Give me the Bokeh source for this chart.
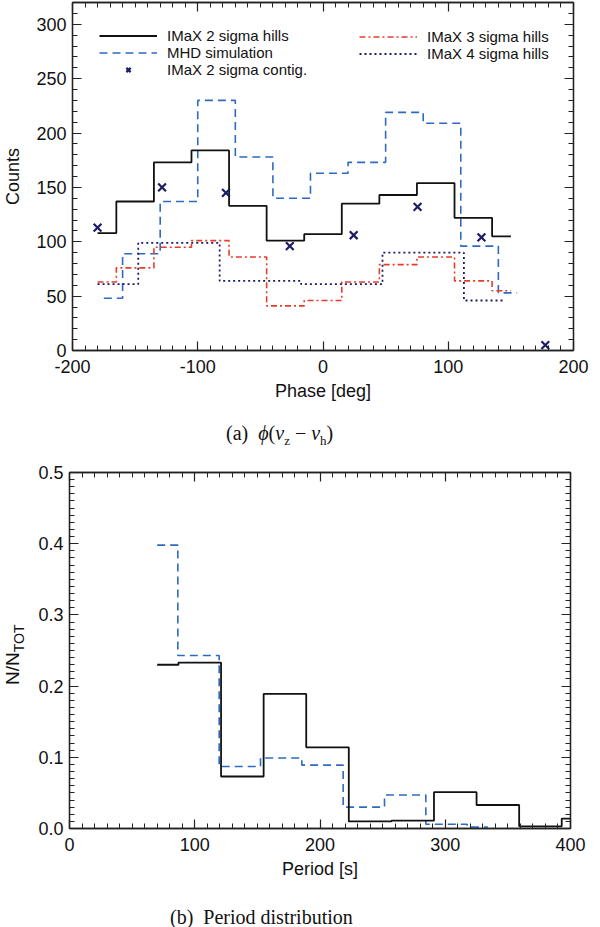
from bokeh.embed import file_html
from bokeh.layouts import column, row
from bokeh.models import (Div, Legend, LegendItem, LinearAxis,
                          NumeralTickFormatter, Range1d, SingleIntervalTicker)
from bokeh.plotting import figure
from bokeh.resources import INLINE

# ---- (a) phase histograms (bin centres, counts) ----
phase_2sig = [-180, -150, -120, -90, -60, -30, 0, 30, 60, 90, 120, 150]
counts_2sig = [108, 137, 173, 184, 133, 101, 107, 135, 143, 154, 122, 105]
counts_3sig = [63, 76, 95, 101, 86, 41, 46, 63, 79, 86, 64, 55]

phase_mhd = [-175, -145, -115, -85, -55, -25, 5, 35, 65, 95, 125, 155]
counts_mhd = [48, 89, 137, 230, 178, 140, 163, 173, 219, 209, 96, 53]

phase_4sig = [-180, -115, -50, 15, 80, 145]
counts_4sig = [61, 99, 64, 61, 90, 46]

phase_contig = [-180, -128.5, -77.5, -26.5, 24.5, 75.5, 126.5, 177.5]
counts_contig = [113, 150, 145, 96, 106, 132, 104, 5]

# ---- (b) period distribution ----
period_imax = [70, 104, 138, 172, 206, 240, 274, 308, 342, 376, 410]
frac_imax = [0.230, 0.233, 0.073, 0.189, 0.114, 0.010, 0.011, 0.051, 0.033, 0.003, 0.014]

period_mhd = [70, 103, 136, 169, 202, 235, 268, 301, 334]
frac_mhd = [0.398, 0.243, 0.087, 0.099, 0.089, 0.030, 0.047, 0.006, 0.002]

SANS = "Liberation Sans"
FRAME = "#222222"
BLUE = "#2e6bbf"
RED = "#e63c2a"
NAVY = "#1c1c66"


def idl_axes(p, xint, yint, yminor, yfmt, ytitle_gap):
    # mirrored axes on top/right, ticks pointing inwards like IDL
    p.add_layout(LinearAxis(), "above")
    p.add_layout(LinearAxis(), "right")
    for ax in p.xaxis:
        ax.ticker = SingleIntervalTicker(interval=xint, num_minor_ticks=10)
    for ax in p.yaxis:
        ax.ticker = SingleIntervalTicker(interval=yint, num_minor_ticks=yminor)
    for ax in p.axis:
        ax.major_tick_in = 9
        ax.major_tick_out = 0
        ax.minor_tick_in = 5
        ax.minor_tick_out = 0
        ax.axis_line_color = FRAME
        ax.axis_line_width = 1.3
        ax.major_tick_line_color = FRAME
        ax.minor_tick_line_color = FRAME
        ax.major_tick_line_width = 1.2
        ax.minor_tick_line_width = 1
        ax.major_label_text_font = SANS
        ax.major_label_text_font_size = "18px"
        ax.major_label_text_color = "#111111"
        ax.axis_label_text_font = SANS
        ax.axis_label_text_font_size = "18px"
        ax.axis_label_text_font_style = "normal"
        ax.axis_label_text_color = "#111111"
    for ax in (p.above[0], p.right[0]):
        ax.major_label_text_color = None
        ax.major_label_text_font_size = "0px"
        ax.major_label_standoff = 0
    bottom, left = p.below[0], p.left[0]
    bottom.formatter = NumeralTickFormatter(format="0")
    left.formatter = NumeralTickFormatter(format=yfmt)
    bottom.major_label_standoff = 9
    bottom.axis_label_standoff = 5
    left.major_label_standoff = 6
    left.axis_label_standoff = ytitle_gap
    p.grid.visible = False
    p.outline_line_color = FRAME
    p.outline_line_width = 1.3


def style_legend(leg):
    leg.border_line_color = None
    leg.background_fill_alpha = 0
    leg.label_text_font = SANS
    leg.label_text_font_size = "15px"
    leg.label_text_color = "#111111"
    leg.glyph_width = 58
    leg.glyph_height = 15
    leg.label_height = 15
    leg.label_standoff = 10
    leg.spacing = 0
    leg.padding = 0
    leg.margin = 0


# ---------------- panel (a) ----------------
pa = figure(frame_width=501, frame_height=348, x_range=Range1d(-200, 200), y_range=Range1d(0, 320),
            min_border_left=67, min_border_right=16, min_border_top=2, min_border_bottom=56,
            output_backend="svg", toolbar_location=None)
idl_axes(pa, 100, 50, 5, "0", 10)
pa.below[0].axis_label = "Phase [deg]"
pa.left[0].axis_label = "Counts"

r_mhd = pa.step(phase_mhd, counts_mhd, mode="center", line_color=BLUE, line_width=1.6, line_dash="8 5")
r_3 = pa.step(phase_2sig, counts_3sig, mode="center", line_color=RED, line_width=1.6, line_dash="6 3 2 3")
r_4 = pa.step(phase_4sig, counts_4sig, mode="center", line_color=NAVY, line_width=1.8, line_dash="2 3")
r_2 = pa.step(phase_2sig, counts_2sig, mode="center", line_color="#111111", line_width=1.8)
r_c = pa.scatter(phase_contig, counts_contig, marker="x", size=11, line_color=NAVY, line_width=2.2)

leg_left = Legend(items=[LegendItem(label="IMaX 2 sigma hills", renderers=[r_2]),
                         LegendItem(label="MHD simulation", renderers=[r_mhd]),
                         LegendItem(label="IMaX 2 sigma contig.", renderers=[r_c])],
                  location=(27, 272))
leg_right = Legend(items=[LegendItem(label="IMaX 3 sigma hills", renderers=[r_3]),
                          LegendItem(label="IMaX 4 sigma hills", renderers=[r_4])],
                   location=(287, 288))
for leg in (leg_left, leg_right):
    style_legend(leg)
    pa.add_layout(leg)

cap_a = Div(text="<div style=\"font-family:'Liberation Serif',serif;font-size:20px;padding-left:221px;"
                 "padding-top:8px;white-space:nowrap;color:#111\">(a)&nbsp;&nbsp;<i>&#981;</i>(<i>v</i>"
                 "<sub style='font-size:13px'>z</sub> &minus; <i>v</i><sub style='font-size:13px'>h</sub>)</div>",
            width=584, height=40)

# ---------------- panel (b) ----------------
pb = figure(frame_width=501, frame_height=356, x_range=Range1d(0, 400), y_range=Range1d(0, 0.5),
            min_border_left=49, min_border_right=16, min_border_top=16, min_border_bottom=56,
            output_backend="svg", toolbar_location=None)
pb.border_fill_color = None
idl_axes(pb, 100, 0.1, 10, "0.0", 0)
pb.below[0].axis_label = "Period [s]"

pb.step(period_mhd, frac_mhd, mode="center", line_color=BLUE, line_width=1.6, line_dash="8 5")
pb.step(period_imax, frac_imax, mode="center", line_color="#111111", line_width=1.8)

# y title with a subscript, rotated
ylab_b = Div(text="<div style=\"position:relative;width:10px;height:428px\">"
                  "<div style=\"position:absolute;left:-2px;top:224px;transform:rotate(-90deg);"
                  "transform-origin:left top;white-space:nowrap;font-family:'Liberation Sans',sans-serif;"
                  "font-size:19px;line-height:20px;color:#111\">N/N<sub style='font-size:14px'>TOT</sub></div></div>",
             width=10, height=428)

cap_b = Div(text="<div style=\"font-family:'Liberation Serif',serif;font-size:20px;padding-left:165px;"
                 "padding-top:4px;white-space:nowrap;color:#111\">(b)&nbsp;&nbsp;Period distribution</div>",
            width=584, height=32)

p = column(pa, cap_a, row(ylab_b, pb), cap_b)
open("out.html", "w").write(file_html(p, INLINE))
